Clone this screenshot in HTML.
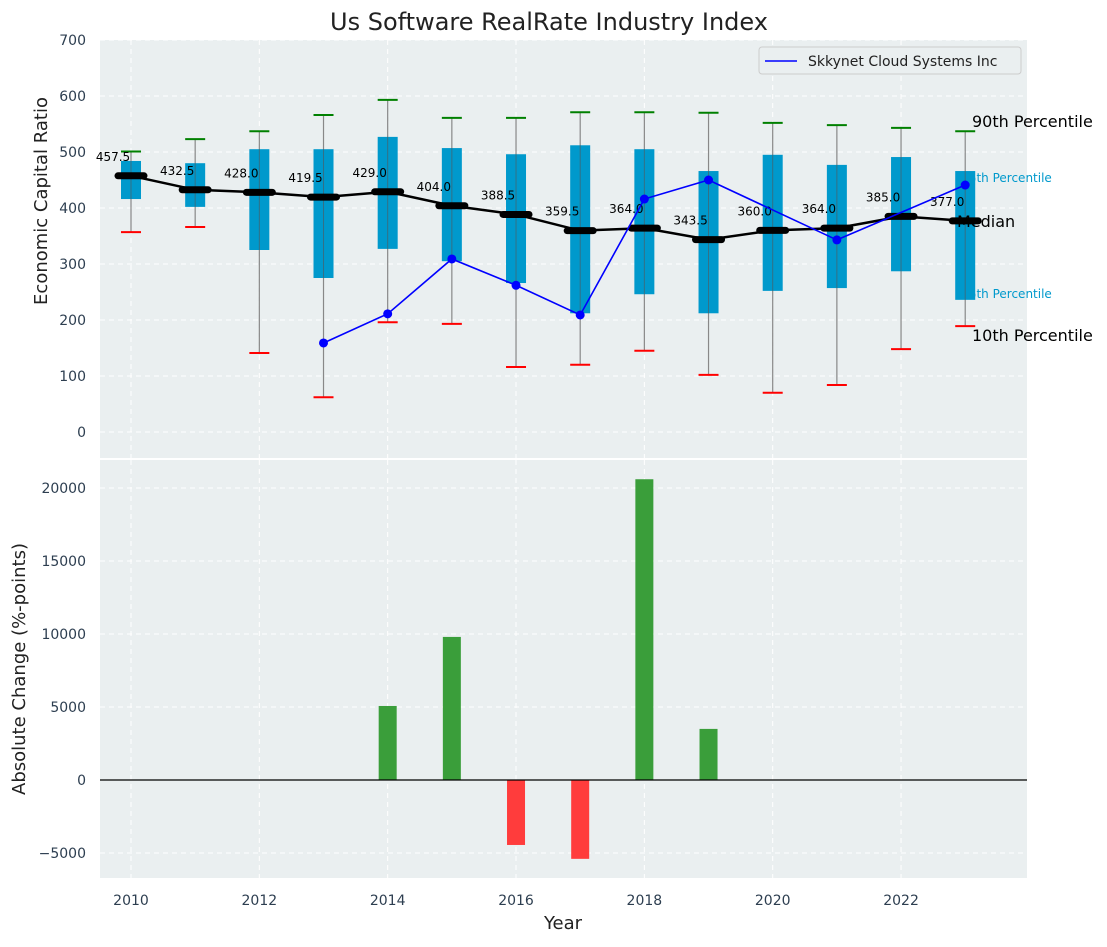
<!DOCTYPE html>
<html><head><meta charset="utf-8"><style>
body{margin:0;background:#fff;}
svg{font-family:"DejaVu Sans","Liberation Sans",sans-serif;}
</style></head><body>
<svg id="c" width="1107" height="942" xmlns="http://www.w3.org/2000/svg"></svg>
<script>
const years=[2010,2011,2012,2013,2014,2015,2016,2017,2018,2019,2020,2021,2022,2023];
const p10=[357,366,141,62,196,193,116,120,145,102,70,84,148,189];
const p25=[416,402,325,275,327,305,266,212,246,212,252,257,287,236];
const medians=[457.5,432.5,428.0,419.5,429.0,404.0,388.5,359.5,364.0,343.5,360.0,364.0,385.0,377.0];
const p75=[484,480,505,505,527,507,496,512,505,466,495,477,491,466];
const p90=[501,523,537,566,593,561,561,571,571,570,552,548,543,537];
const companyYears=[2013,2014,2015,2016,2017,2018,2019,2021,2023];
const companyVals=[159,211,309,262,209,416,450,343,441];
const changeYears=[2014,2015,2016,2017,2018,2019];
const changeVals=[5070,9800,-4450,-5400,20600,3500];
const topTicks=[0,100,200,300,400,500,600,700];
const botTicks=[-5000,0,5000,10000,15000,20000];
const xTicks=[2010,2012,2014,2016,2018,2020,2022];

const NS="http://www.w3.org/2000/svg";
const svg=document.getElementById('c');
function mk(tag,attrs,parent,text){const e=document.createElementNS(NS,tag);for(const k in attrs)e.setAttribute(k,attrs[k]);if(text!==undefined)e.textContent=text;(parent||svg).appendChild(e);return e;}
const X=v=>131+(v-2010)*64.17;
const Yt=v=>432-v*0.56;
const Yb=v=>780-v*0.0146;
const L=100,R=1027;

let e;
e=mk('rect',{x:L,y:40,width:R-L,height:418,fill:'#eaeff0'});

e=mk('rect',{x:L,y:460,width:R-L,height:418,fill:'#eaeff0'});

// grids
xTicks.forEach(t=>{
 mk('line',{x1:X(t),x2:X(t),y1:40,y2:458,stroke:'#fff','stroke-dasharray':'5,4','stroke-width':1});
 mk('line',{x1:X(t),x2:X(t),y1:460,y2:878,stroke:'#fff','stroke-dasharray':'5,4','stroke-width':1});
 e=mk('text',{x:X(t),y:905,'text-anchor':'middle','font-size':14,fill:'#2d3e50'},null,t);
 
});
topTicks.forEach(t=>{
 mk('line',{x1:L,x2:R,y1:Yt(t),y2:Yt(t),stroke:'#fff','stroke-dasharray':'5,4'});
 e=mk('text',{x:86,y:Yt(t)+5,'text-anchor':'end','font-size':14,fill:'#2d3e50'},null,t);
 
});
botTicks.forEach(t=>{
 mk('line',{x1:L,x2:R,y1:Yb(t),y2:Yb(t),stroke:'#fff','stroke-dasharray':'5,4'});
 e=mk('text',{x:86,y:Yb(t)+5,'text-anchor':'end','font-size':14,fill:'#2d3e50'},null,t<0?'\u2212'+(-t):t);
 
});
// right annotations (under boxes)
const xl=X(2023);
e=mk('text',{x:xl-4,y:182,'font-size':12,fill:'#0099cc'},null,'75th Percentile');

e=mk('text',{x:xl-4,y:298,'font-size':12,fill:'#0099cc'},null,'25th Percentile');

// boxes
years.forEach((y,i)=>{
 e=mk('line',{x1:X(y),x2:X(y),y1:Yt(p10[i]),y2:Yt(p90[i]),stroke:'#888','stroke-width':1.2});
 
 e=mk('rect',{x:X(y)-10,y:Yt(p75[i]),width:20,height:Yt(p25[i])-Yt(p75[i]),fill:'#0099cc'});
 
 mk('line',{x1:X(y),x2:X(y),y1:Yt(p25[i]),y2:Yt(p75[i]),stroke:'#555','stroke-width':1,'stroke-opacity':0.6});
 e=mk('line',{x1:X(y)-10,x2:X(y)+10,y1:Yt(p90[i]),y2:Yt(p90[i]),stroke:'#008000','stroke-width':2});
 
 e=mk('line',{x1:X(y)-10,x2:X(y)+10,y1:Yt(p10[i]),y2:Yt(p10[i]),stroke:'#ff0000','stroke-width':2});
 
});
// median line
e=mk('polyline',{points:years.map((y,i)=>X(y)+','+Yt(medians[i])).join(' '),fill:'none',stroke:'#000','stroke-width':2.5});

years.forEach((y,i)=>{
 e=mk('line',{x1:X(y)-13,x2:X(y)+13,y1:Yt(medians[i]),y2:Yt(medians[i]),stroke:'#000','stroke-width':7,'stroke-linecap':'round'});
 
 e=mk('text',{x:X(y)-18,y:Yt(medians[i])-15,'text-anchor':'middle','font-size':12,fill:'#000'},null,medians[i].toFixed(1));
 
});
// company line
e=mk('polyline',{points:companyYears.map((y,i)=>X(y)+','+Yt(companyVals[i])).join(' '),fill:'none',stroke:'#0000ff','stroke-width':1.6});

companyYears.forEach((y,i)=>{
 e=mk('circle',{cx:X(y),cy:Yt(companyVals[i]),r:4.5,fill:'#0000ff'});
 
});
e=mk('text',{x:972,y:127,'font-size':16,fill:'#000'},null,'90th Percentile');

e=mk('text',{x:957,y:227,'font-size':16,fill:'#000'},null,'Median');

e=mk('text',{x:972,y:341,'font-size':16,fill:'#000'},null,'10th Percentile');

// legend
const lg=mk('g',{});

mk('rect',{x:759,y:47,width:262,height:27,rx:3,fill:'#eaeff0',stroke:'#ccc'},lg);
mk('line',{x1:765,x2:797,y1:61,y2:61,stroke:'#0000ff','stroke-width':1.6},lg);
e=mk('text',{x:808,y:66,'font-size':14,fill:'#222'},lg,'Skkynet Cloud Systems Inc');

// bars
changeYears.forEach((y,i)=>{
 const v=changeVals[i];
 e=mk('rect',{x:X(y)-9,y:Math.min(Yb(v),Yb(0)),width:18,height:Math.abs(Yb(v)-Yb(0)),fill:v>=0?'#3a9e3a':'#ff3c3c'});
 
});
e=mk('line',{x1:L,x2:R,y1:Yb(0),y2:Yb(0),stroke:'#000','stroke-width':1.2});

// titles
e=mk('text',{x:549,y:30,'text-anchor':'middle','font-size':24,fill:'#222'},null,'Us Software RealRate Industry Index');

e=mk('text',{x:0,y:0,'text-anchor':'middle','font-size':18,fill:'#222',transform:'translate(47,201) rotate(-90)'},null,'Economic Capital Ratio');

e=mk('text',{x:0,y:0,'text-anchor':'middle','font-size':18,fill:'#222',transform:'translate(25,669) rotate(-90)'},null,'Absolute Change (%-points)');

e=mk('text',{x:563,y:929,'text-anchor':'middle','font-size':18,fill:'#222'},null,'Year');

</script>
</body></html>
